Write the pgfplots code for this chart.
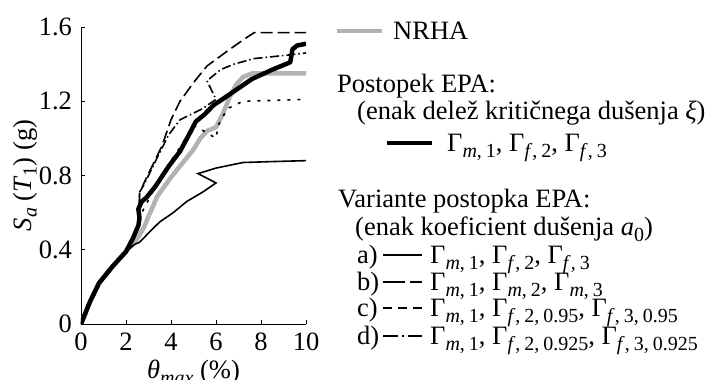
\documentclass[border=0pt]{standalone}
\usepackage{pgfplots}
\pgfplotsset{compat=1.18}
\usepackage{fontspec}
\setmainfont{Liberation Serif}

\newcommand{\sub}[1]{\raisebox{-0.2em}{\fontsize{20}{20}\selectfont #1}}
\newcommand{\cm}{,\hspace{0.2em}}
\tikzset{
  nrha/.style={color=black!30, line width=4.5pt, line join=round},
  epa/.style={black, line width=4.5pt, line join=round},
  va/.style={black, line width=1.6pt},
  vb/.style={black, line width=1.6pt, dash pattern=on 12pt off 5pt},
  vc/.style={black, line width=1.6pt, dash pattern=on 3pt off 7pt},
  vd/.style={black, line width=1.6pt, dash pattern=on 9pt off 3pt on 1.5pt off 3pt},
}

\begin{document}
\fontsize{26.5}{31}\selectfont
\begin{tikzpicture}
\begin{axis}[
  at={(0pt,0pt)}, anchor=south west,
  scale only axis, width=225pt, height=297pt,
  xmin=0, xmax=10, ymin=0, ymax=1.6,
  axis lines=left,
  axis line style={-, line width=0.8pt},
  tick align=inside,
  major tick length=4pt,
  tick style={black, line width=0.8pt},
  xtick={0,2,4,6,8,10},
  ytick={0,0.4,0.8,1.2,1.6},
  /pgf/number format/assume math mode=true,
  /pgf/number format/fixed,
  every axis x label/.style={at={(axis description cs:0.5,0)}, anchor=base, yshift=-55pt},
  every axis y label/.style={at={(axis description cs:0,0.5)}, anchor=center, xshift=-56pt, rotate=90},
  xlabel={\textit{θ}\sub{\textit{max}} (\%)},
  ylabel={\textit{S}\sub{\textit{a}} (\textit{T}\sub{1}) (g)},
]
% NRHA
\addplot[nrha] coordinates {(0,0) (0.4,0.12) (0.8,0.22) (1.4,0.31) (2.0,0.39) (2.5,0.46) (2.8,0.52) (3.0,0.58) (3.4,0.69) (4.0,0.79) (4.6,0.88) (5.0,0.94) (5.3,1.0) (5.6,1.04) (6.0,1.06) (6.3,1.13) (6.6,1.22) (6.9,1.29) (7.2,1.33) (7.6,1.35) (10,1.35)};
% variant a
\addplot[va] coordinates {(0,0) (0.4,0.12) (0.8,0.22) (1.4,0.31) (2.0,0.39) (2.4,0.43) (2.6,0.44) (3.0,0.49) (3.5,0.55) (4.1,0.6) (4.7,0.66) (5.4,0.71) (6.0,0.76) (5.2,0.81) (6.0,0.84) (7.2,0.87) (8.5,0.875) (10,0.88)};
% variant b
\addplot[vb] coordinates {(0,0) (0.4,0.12) (0.8,0.22) (1.4,0.31) (2.0,0.39) (2.5,0.5) (2.6,0.55) (2.6,0.7) (2.8,0.76) (3.2,0.86) (3.6,0.96) (4.0,1.1) (4.4,1.2) (5.0,1.3) (5.6,1.39) (6.5,1.47) (7.2,1.53) (7.7,1.57) (10,1.57)};
% variant c
\addplot[vc] coordinates {(0,0) (0.4,0.12) (0.8,0.22) (1.4,0.31) (2.0,0.39) (2.5,0.5) (2.7,0.6) (3.4,0.76) (3.9,0.86) (4.5,0.97) (5.0,1.07) (5.6,1.03) (6.0,1.0) (6.1,1.07) (6.5,1.16) (7.2,1.2) (10,1.21)};
% variant d
\addplot[vd] coordinates {(0,0) (0.4,0.12) (0.8,0.22) (1.4,0.31) (2.0,0.39) (2.5,0.5) (2.6,0.55) (2.6,0.71) (2.8,0.75) (3.2,0.85) (3.9,1.02) (4.4,1.1) (4.9,1.13) (5.4,1.16) (6.0,1.21) (5.6,1.31) (6.2,1.37) (6.8,1.4) (7.7,1.43) (9.3,1.45) (10,1.46)};
% EPA
\addplot[epa] coordinates {(0,0) (0.4,0.12) (0.8,0.22) (1.4,0.31) (2.0,0.39) (2.3,0.46) (2.55,0.53) (2.6,0.57) (2.55,0.62) (2.7,0.66) (2.9,0.68) (3.3,0.74) (3.9,0.85) (4.4,0.93) (4.8,1.02) (5.1,1.09) (5.5,1.13) (5.9,1.18) (6.4,1.22) (7.0,1.27) (7.6,1.32) (8.5,1.37) (9.3,1.41) (9.4,1.48) (9.6,1.5) (10,1.51)};
\end{axis}

% legend
\draw[nrha] (256pt,293pt) -- (301pt,293pt);
\node[anchor=base west, inner sep=0pt] at (312pt,284pt) {NRHA};
\node[anchor=base west, inner sep=0pt] at (256pt,231pt) {Postopek EPA:};
\node[anchor=base west, inner sep=0pt] at (276pt,204pt) {(enak delež kritičnega dušenja \textit{ξ})};
\draw[epa] (306pt,181pt) -- (351pt,181pt);
\node[anchor=base west, inner sep=0pt] at (366pt,172pt) {Γ\sub{\textit{m}\cm 1}, Γ\sub{\textit{f}\cm 2}, Γ\sub{\textit{f}\cm 3}};
\node[anchor=base west, inner sep=0pt] at (257pt,116pt) {Variante postopka EPA:};
\node[anchor=base west, inner sep=0pt] at (274pt,88pt) {(enak koeficient dušenja \textit{a}\sub{0})};
\node[anchor=base west, inner sep=0pt] at (276pt,60pt) {a)};
\draw[va] (302pt,69pt) -- (341pt,69pt);
\node[anchor=base west, inner sep=0pt] at (349pt,60pt) {Γ\sub{\textit{m}\cm 1}, Γ\sub{\textit{f}\cm 2}, Γ\sub{\textit{f}\cm 3}};
\node[anchor=base west, inner sep=0pt] at (276pt,33pt) {b)};
\draw[black, line width=1.6pt, dash pattern=on 22pt off 5pt] (302pt,42pt) -- (341pt,42pt);
\node[anchor=base west, inner sep=0pt] at (349pt,33pt) {Γ\sub{\textit{m}\cm 1}, Γ\sub{\textit{m}\cm 2}, Γ\sub{\textit{m}\cm 3}};
\node[anchor=base west, inner sep=0pt] at (276pt,7pt) {c)};
\draw[black, line width=1.6pt, dash pattern=on 9pt off 6pt] (302pt,16pt) -- (341pt,16pt);
\node[anchor=base west, inner sep=0pt] at (349pt,7pt) {Γ\sub{\textit{m}\cm 1}, Γ\sub{\textit{f}\cm 2\cm 0.95}, Γ\sub{\textit{f}\cm 3\cm 0.95}};
\node[anchor=base west, inner sep=0pt] at (276pt,-21pt) {d)};
\draw[black, line width=1.6pt, dash pattern=on 15pt off 4pt on 2pt off 4pt] (302pt,-12pt) -- (341pt,-12pt);
\node[anchor=base west, inner sep=0pt] at (349pt,-21pt) {Γ\sub{\textit{m}\cm 1}, Γ\sub{\textit{f}\cm 2\cm 0.925}, Γ\sub{\textit{f}\cm 3\cm 0.925}};

\pgfresetboundingbox
\path[use as bounding box] (-81pt,-56pt) rectangle (629pt,324pt);
\end{tikzpicture}
\end{document}
